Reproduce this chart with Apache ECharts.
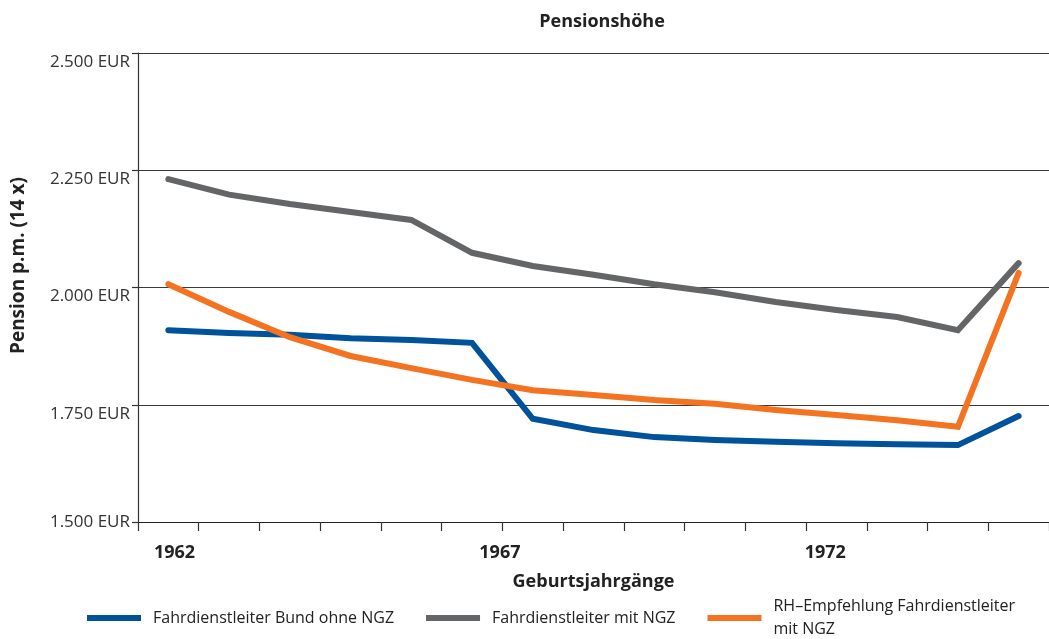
<!DOCTYPE html>
<html>
<head>
<meta charset="utf-8">
<script src="https://cdn.jsdelivr.net/npm/echarts@6/dist/echarts.min.js"></script>
<style>
  html, body { margin: 0; padding: 0; background: #fff; }
  #chart { width: 1049px; height: 639px; }
</style>
</head>
<body>
<div id="chart"></div>
<script>
// Birth cohorts (one point per year)
const years = ['1962','1963','1964','1965','1966','1967','1968','1969','1970','1971','1972','1973','1974','1975','1976'];
// Year labels written under the axis
const yearLabels = ['1962','1967','1972'];
const labelYears = ['1962','1963','1964','1965','1966','1967','1968','1969','1970','1971','1972','1973','1974','1975'];

// Monthly pension (14 payments per year), EUR
const bundOhneNGZ = [1909, 1903, 1899, 1892, 1888, 1882, 1720, 1696, 1681, 1675, 1671, 1668, 1666, 1664, 1726];
const mitNGZ      = [2231, 2198, 2178, 2161, 2144, 2074, 2046, 2027, 2007, 1990, 1969, 1952, 1937, 1909, 2052];
const rhEmpfehlung = [2007, 1948, 1894, 1854, 1828, 1803, 1781, 1771, 1760, 1752, 1739, 1728, 1717, 1703, 2031];

const yTicks = { min: 1500, max: 2500, step: 250 };

const FONT = '"Open Sans", "Noto Sans", sans-serif';
const fmtEUR = v => String(v).replace(/\B(?=(\d{3})+$)/, '.') + ' EUR';

const chart = echarts.init(document.getElementById('chart'), null, { renderer: 'canvas' });

chart.setOption({
  animation: false,
  backgroundColor: '#ffffff',
  textStyle: { fontFamily: FONT },
  title: {
    text: 'Pensionshöhe',
    left: 597,
    textAlign: 'center',
    top: 8,
    textStyle: { fontFamily: FONT, fontSize: 18, fontWeight: 'bold', color: '#222' }
  },
  grid: { left: 138, right: -7, top: 53, bottom: 117 },
  legend: {
    left: 82,
    top: 590,
    icon: 'rect',
    itemWidth: 54,
    itemHeight: 6,
    itemGap: 32,
    textStyle: { fontFamily: FONT, fontSize: 16, color: '#222', padding: [0, 0, 0, 7], lineHeight: 23 },
    data: ['Fahrdienstleiter Bund ohne NGZ', 'Fahrdienstleiter mit NGZ', 'RH\u2013Empfehlung Fahrdienstleiter\nmit NGZ']
  },
  xAxis: [
    {
      type: 'category',
      data: years,
      boundaryGap: true,
      position: 'bottom',
      axisLine: { lineStyle: { color: '#222', width: 1.2 } },
      axisTick: { show: true, length: 9, alignWithLabel: false, interval: 0, lineStyle: { color: '#333', width: 1.2 } },
      axisLabel: { show: false },
      splitLine: { show: false },
      name: 'Geburtsjahrgänge',
      nameLocation: 'middle',
      nameGap: 51,
      nameTextStyle: { fontFamily: FONT, fontSize: 18, fontWeight: 'bold', color: '#222' }
    },
    {
      type: 'category',
      data: labelYears,
      boundaryGap: true,
      position: 'bottom',
      axisLine: { show: false },
      axisTick: { show: false },
      axisLabel: {
        interval: 0,
        margin: 22,
        fontFamily: FONT,
        fontSize: 18,
        fontWeight: 'bold',
        color: '#222',
        padding: [0, 0, 0, 8],
        formatter: v => (yearLabels.includes(v) ? v : '')
      },
      splitLine: { show: false }
    }
  ],
  yAxis: {
    type: 'value',
    min: yTicks.min,
    max: yTicks.max,
    interval: yTicks.step,
    axisLine: { show: true, lineStyle: { color: '#333', width: 1.2 } },
    axisTick: { show: true, inside: false, length: 6, lineStyle: { color: '#333', width: 1.2 } },
    axisLabel: {
      margin: 8,
      formatter: v => (v === yTicks.min ? '{b|' + fmtEUR(v) + '}' : '{a|' + fmtEUR(v) + '}'),
      rich: {
        a: { fontFamily: FONT, fontSize: 17, color: '#333', padding: [18, 0, 0, 0] },
        b: { fontFamily: FONT, fontSize: 17, color: '#333' }
      }
    },
    splitLine: { show: true, lineStyle: { color: '#3a3a3a', width: 1.2 } },
    name: 'Pension p.m. (14 x)',
    nameLocation: 'middle',
    nameGap: 110,
    nameTextStyle: { fontFamily: FONT, fontSize: 19, fontWeight: 'bold', color: '#222', padding: [0, 0, 0, 44] }
  },
  series: [
    {
      name: 'Fahrdienstleiter Bund ohne NGZ',
      type: 'line',
      xAxisIndex: 0,
      data: bundOhneNGZ,
      showSymbol: false,
      symbol: 'none',
      lineStyle: { color: '#00529b', width: 6, cap: 'round', join: 'miter' },
      itemStyle: { color: '#00529b' }
    },
    {
      name: 'Fahrdienstleiter mit NGZ',
      type: 'line',
      xAxisIndex: 0,
      data: mitNGZ,
      showSymbol: false,
      symbol: 'none',
      lineStyle: { color: '#646567', width: 6, cap: 'round', join: 'miter' },
      itemStyle: { color: '#646567' }
    },
    {
      name: 'RH\u2013Empfehlung Fahrdienstleiter\nmit NGZ',
      type: 'line',
      xAxisIndex: 0,
      data: rhEmpfehlung,
      showSymbol: false,
      symbol: 'none',
      lineStyle: { color: '#f37321', width: 6, cap: 'round', join: 'miter' },
      itemStyle: { color: '#f37321' }
    }
  ]
});
</script>
</body>
</html>
